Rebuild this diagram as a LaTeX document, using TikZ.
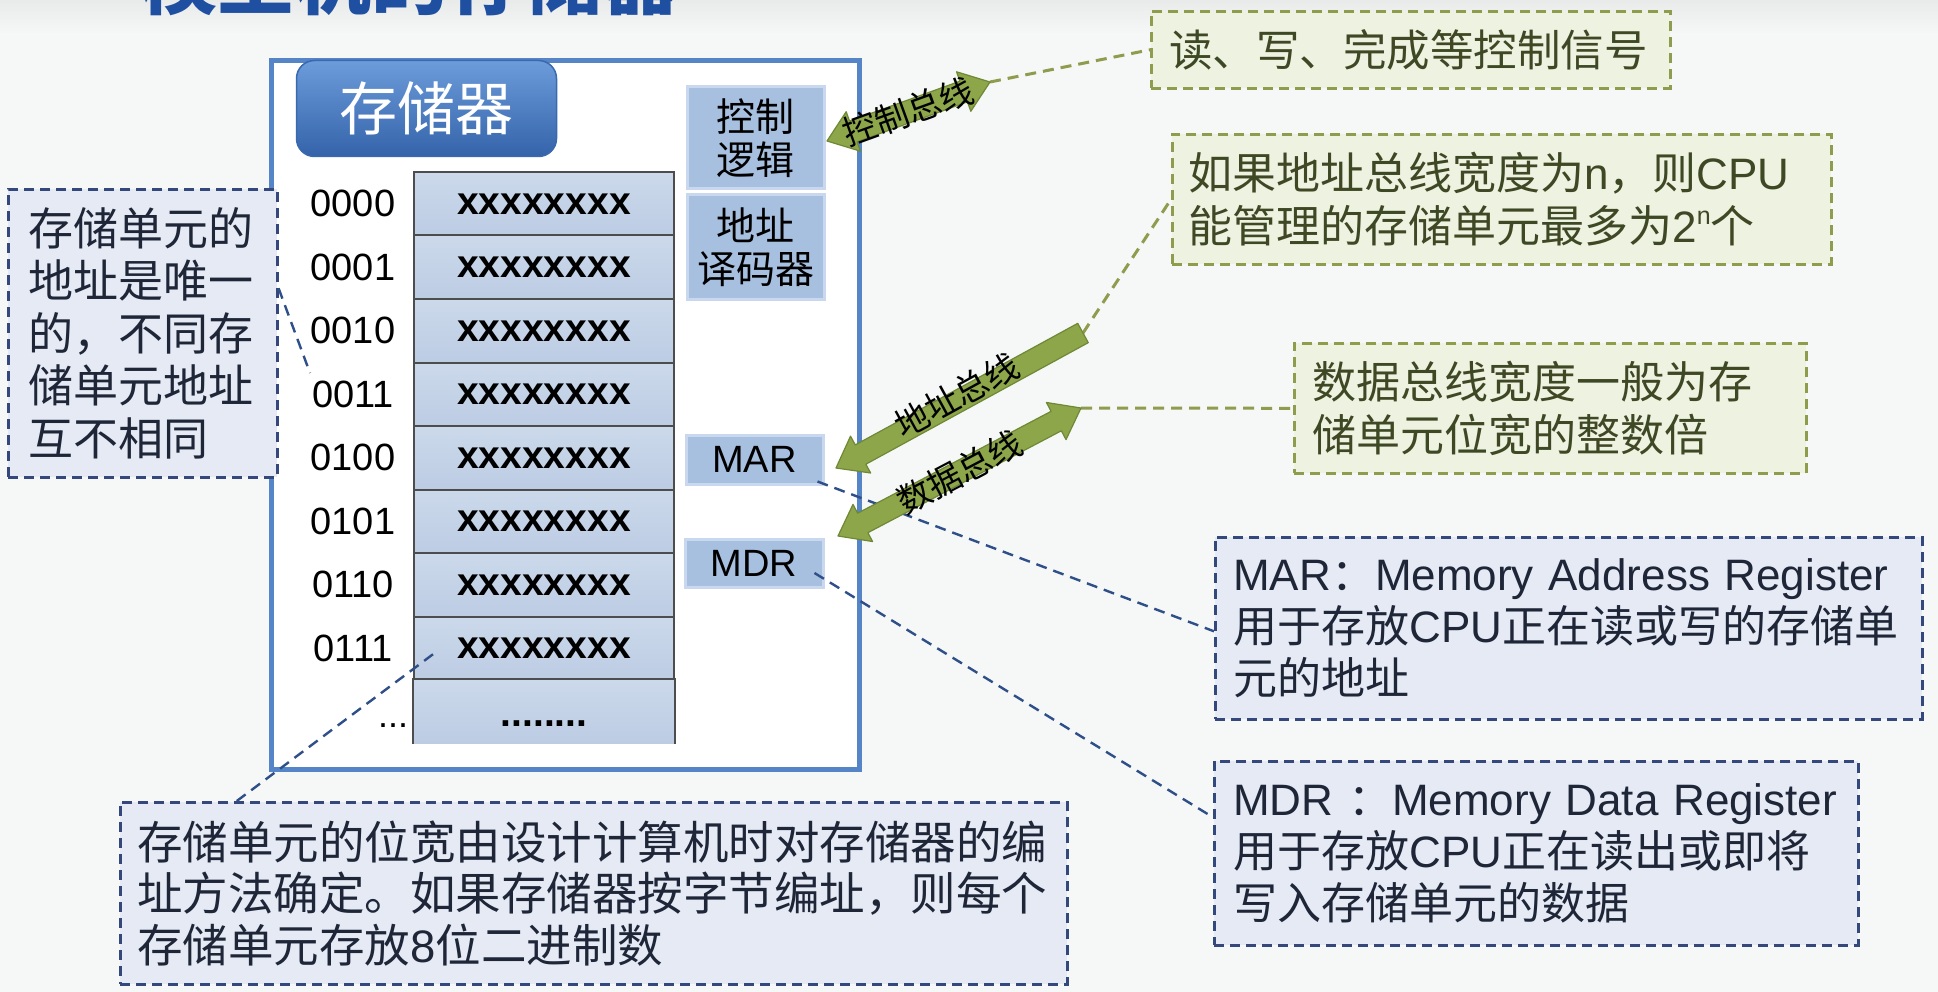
\documentclass[tikz,border=0pt]{standalone}
\usepackage{fontspec}
\setmainfont{Liberation Sans}
\newfontfamily\cjk{Noto Sans CJK SC}
\newfontfamily\latn{Liberation Sans}
\usetikzlibrary{calc}

\definecolor{bgc}{HTML}{F6F7F7}
\definecolor{bandtop}{HTML}{E9EAEA}
\definecolor{titleblue}{HTML}{1F4FA0}
\definecolor{framebl}{HTML}{5585C6}
\definecolor{hdrtop}{HTML}{6C9CDA}
\definecolor{hdrbot}{HTML}{3463AA}
\definecolor{hdredge}{HTML}{3A69B0}
\definecolor{celltop}{HTML}{CCD9EB}
\definecolor{cellbot}{HTML}{BCCCE3}
\definecolor{cellline}{HTML}{4D4D4D}
\definecolor{ctrlfill}{HTML}{A8C0E0}
\definecolor{ctrledge}{HTML}{C9D8EE}
\definecolor{busfill}{HTML}{8DA64A}
\definecolor{busedge}{HTML}{6F8836}
\definecolor{notebl}{HTML}{E5EAF5}
\definecolor{noteblline}{HTML}{34487C}
\definecolor{linkbl}{HTML}{2F4F88}
\definecolor{notegr}{HTML}{EEF2E1}
\definecolor{notegrline}{HTML}{8F9C4E}
\definecolor{txtbl}{HTML}{1E2638}
\definecolor{txtgr}{HTML}{3F4824}

% bus arrow with two heads
\newcommand{\busdouble}[2]{%
  \coordinate (#1h) at ($(#1)!28pt!(#2)$);
  \coordinate (#2h) at ($(#2)!28pt!(#1)$);
  \filldraw[busarrow] (#1) -- ($(#1h)!21pt!90:(#2)$) -- ($(#1h)!11pt!90:(#2)$)
    -- ($(#2h)!11pt!-90:(#1)$) -- ($(#2h)!21pt!-90:(#1)$) -- (#2)
    -- ($(#2h)!21pt!90:(#1)$) -- ($(#2h)!11pt!90:(#1)$)
    -- ($(#1h)!11pt!-90:(#2)$) -- ($(#1h)!21pt!-90:(#2)$) -- cycle;}
% bus arrow with one head, at the second end
\newcommand{\bussingle}[2]{%
  \coordinate (#2h) at ($(#2)!28pt!(#1)$);
  \filldraw[busarrow] ($(#1)!11pt!90:(#2)$) -- ($(#2h)!11pt!-90:(#1)$)
    -- ($(#2h)!21pt!-90:(#1)$) -- (#2) -- ($(#2h)!21pt!90:(#1)$)
    -- ($(#2h)!11pt!90:(#1)$) -- ($(#1)!11pt!-90:(#2)$) -- cycle;}

\begin{document}
\begin{tikzpicture}[x=1pt,y=-1pt,
  notebase/.style={anchor=north west, align=left, inner ysep=0pt,
    line width=2.6pt, dash pattern=on 10pt off 6pt},
  bluenote/.style={notebase, draw=noteblline, fill=notebl, text=txtbl},
  greennote/.style={notebase, draw=notegrline, fill=notegr, text=txtgr},
  bluelink/.style={draw=linkbl, line width=2.4pt, dash pattern=on 11pt off 7pt},
  greenlink/.style={draw=notegrline, line width=3pt, dash pattern=on 11pt off 7pt},
  cellbox/.style={minimum width=260pt, minimum height=63.5pt, inner sep=0pt,
    top color=celltop, bottom color=cellbot, draw=cellline, line width=2pt,
    font=\fontsize{39}{39}\selectfont\bfseries},
  addrlabel/.style={font=\fontsize{38}{38}\selectfont, inner sep=0pt},
  regbox/.style={fill=ctrlfill, draw=ctrledge, line width=3pt, inner sep=0pt,
    align=center, font=\fontsize{39}{43}\selectfont\cjk},
  busarrow/.style={fill=busfill, draw=busedge, line width=1.2pt, line join=round},
  buslabel/.style={font=\fontsize{34}{34}\selectfont\cjk, inner sep=0pt},
]
\useasboundingbox (0,0) rectangle (1938,992);

% page background and heading band
\begin{scope}
  \clip (0,0) rectangle (1938,992);
  \fill[bgc] (0,0) rectangle (1938,992);
  \shade[top color=bandtop, bottom color=bgc] (0,0) rectangle (1938,34);
  \node[anchor=base west, inner sep=0pt, text=titleblue,
    font=\fontsize{77}{77}\selectfont\cjk\bfseries] (title) at (140,9) {模型机的存储器};
\end{scope}

% memory frame and its heading tab
\draw[framebl, line width=5pt, fill=white] (271,61) rectangle (859,769);
\node[minimum width=260pt, minimum height=96pt, rounded corners=18pt,
  top color=hdrtop, bottom color=hdrbot, draw=hdredge, line width=1.5pt,
  text=white, font=\fontsize{58}{58}\selectfont\cjk] (hdr) at (426.5,108.5) {存储器};

% storage cells with their addresses
\foreach \i/\a in {0/0000,1/0001,2/0010,3/0011,4/0100,5/0101,6/0110,7/0111} {
  \node[cellbox] (cell\i) at (544,{203.75+63.5*\i}) {xxxxxxxx};
  \node[addrlabel] (addr\i) at (353,{203.75+63.5*\i}) {\a};
}
\node[cellbox, draw=none] (cell8) at (544,711.25) {};
\draw[cellline, line width=2pt] (cell8.south west) -- (cell8.north west)
  -- (cell8.north east) -- (cell8.south east);
\node[anchor=base, inner sep=0pt, font=\fontsize{39}{39}\selectfont\bfseries] (celldots) at (544,726) {........};
\node[anchor=base, inner sep=0pt, font=\fontsize{36}{36}\selectfont] (addrdots) at (393,727) {...};

% control logic, decoder and registers
\node[regbox, minimum width=137pt, minimum height=102pt] (ctrl) at (755.5,138) {控制\\逻辑};
\node[regbox, minimum width=137pt, minimum height=105pt] (dec) at (755.5,247.5) {地址\\译码器};
\node[regbox, minimum width=137pt, minimum height=49pt, font=\fontsize{38}{38}\selectfont\latn] (mar) at (754.5,459.5) {MAR};
\node[regbox, minimum width=138pt, minimum height=48pt, font=\fontsize{38}{38}\selectfont\latn] (mdr) at (754,563) {MDR};

% explanatory notes
\node[bluenote, minimum width=269pt, minimum height=288pt, inner xsep=20pt, text width=229pt,
  font=\fontsize{45}{52.5}\selectfont\cjk] (lbox) at (7,188)
  {存储单元的\\地址是唯一\\的，不同存\\储单元地址\\互不相同};
\node[bluenote, minimum width=947pt, minimum height=182pt, inner xsep=17pt, text width=913pt,
  font=\fontsize{45.5}{51.5}\selectfont\cjk] (bbox) at (119,801)
  {存储单元的位宽由设计计算机时对存储器的编\\址方法确定。如果存储器按字节编址，则每个\\存储单元存放{\latn 8}位二进制数};
\node[bluenote, minimum width=707pt, minimum height=182pt, inner xsep=18pt, text width=671pt,
  font=\fontsize{44}{52}\selectfont\cjk] (marinfo) at (1214,536)
  {{\latn MAR}：{\latn Memory Address Register}\\用于存放{\latn CPU}正在读或写的存储单\\元的地址};
\node[bluenote, minimum width=644pt, minimum height=184pt, inner xsep=19pt, text width=606pt,
  font=\fontsize{44}{52}\selectfont\cjk] (mdrinfo) at (1213,760)
  {{\latn MDR }：{\latn Memory Data Register}\\用于存放{\latn CPU}正在读出或即将\\写入存储单元的数据};

% bus end points
\coordinate (cbL) at (827,141);
\coordinate (cbR) at (990,82);
\coordinate (abU) at (1083,333);
\coordinate (abL) at (836,468);
\coordinate (dbU) at (1081,408);
\coordinate (dbL) at (838,536);
\coordinate (lpin) at (310,373);
\coordinate (cpin) at (436,652);

% dashed leader lines
\draw[bluelink] ([yshift=45pt]lbox.east) -- (lpin);
\draw[bluelink] ([xshift=-357pt]bbox.north) -- (cpin);
\draw[bluelink] ([xshift=-7pt,yshift=4pt]mar.south east) -- ([yshift=-3pt]marinfo.west);
\draw[bluelink] ([xshift=-10pt,yshift=-10pt]mdr.east) -- ([yshift=36pt]mdrinfo.west);

% green notes
\node[greennote, minimum width=519pt, minimum height=77pt, inner xsep=18pt, text width=483pt,
  font=\fontsize{43.5}{52}\selectfont\cjk] (g5) at (1150,10) {读、写、完成等控制信号};
\node[greennote, minimum width=659pt, minimum height=130pt, inner xsep=16pt, text width=627pt,
  font=\fontsize{44}{53}\selectfont\cjk] (g6) at (1171,133)
  {如果地址总线宽度为{\latn n}，则{\latn CPU}\\能管理的存储单元最多为{\latn 2}\raisebox{0.42em}{\fontsize{25}{25}\selectfont\latn n}个};
\node[greennote, minimum width=512pt, minimum height=130pt, inner xsep=18pt, text width=476pt,
  font=\fontsize{44}{53}\selectfont\cjk] (g7) at (1293,342)
  {数据总线宽度一般为存\\储单元位宽的整数倍};

\draw[greenlink] (cbR) -- (g5.west);
\draw[greenlink] (abU) -- (g6.west);
\draw[greenlink] (dbU) -- (g7.west);

% buses
\busdouble{cbL}{cbR}
\bussingle{abU}{abL}
\busdouble{dbL}{dbU}
\path (cbL) -- (cbR) node[midway, sloped, buslabel] (cblab) {控制总线};
\path (abL) -- (abU) node[midway, sloped, buslabel, yshift=6pt] (ablab) {地址总线};
\path (dbL) -- (dbU) node[midway, sloped, buslabel] (dblab) {数据总线};
\end{tikzpicture}
\end{document}
